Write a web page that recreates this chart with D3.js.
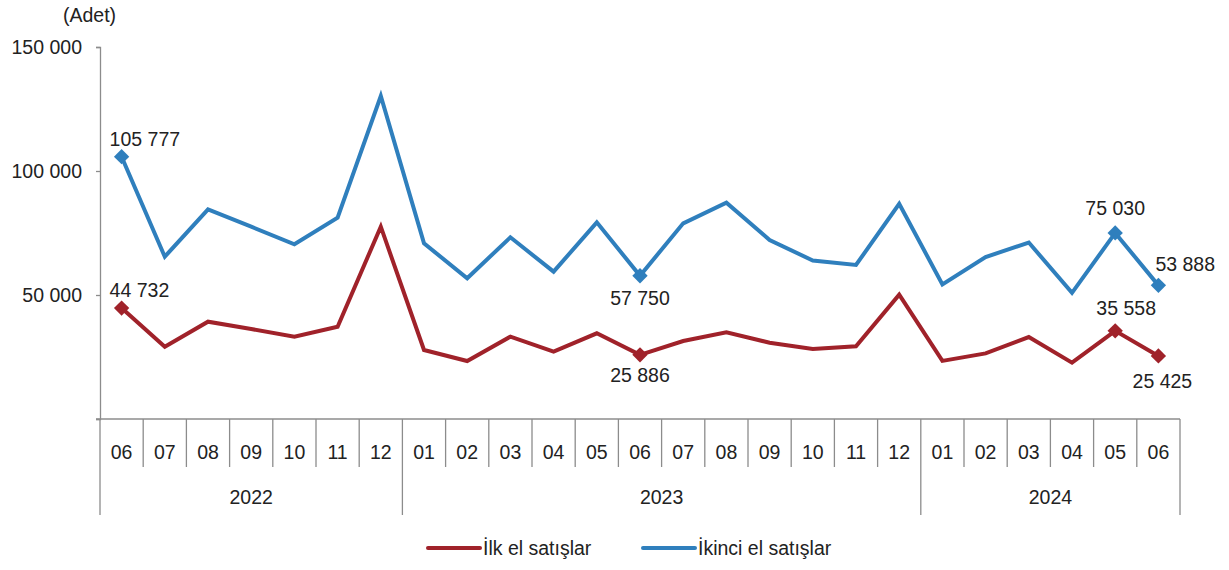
<!DOCTYPE html>
<html><head><meta charset="utf-8">
<script src="https://cdn.jsdelivr.net/npm/d3@7"></script>
<style>body{margin:0;background:#fff}svg{display:block}text{font-family:"Liberation Sans",Arial,sans-serif;fill:#222}</style>
</head><body><svg id="c" width="1229" height="570"></svg>
<script>
const months = ["06","07","08","09","10","11","12","01","02","03","04","05","06","07","08","09","10","11","12","01","02","03","04","05","06"];
const years = [{label:"2022",start:0,end:7},{label:"2023",start:7,end:19},{label:"2024",start:19,end:25}];
const ilkEl = [44732,29150,39230,36290,33190,37220,77540,27820,23390,33190,27150,34560,25886,31450,34960,30780,28230,29310,50160,23430,26450,33060,22740,35558,25425];
const ikinciEl = [105777,65440,84550,77540,70440,81170,130240,70840,56730,73270,59400,79300,57750,78900,87220,72180,63900,62100,86800,54270,65300,71170,50850,75030,53888];
const yTicks = [0,50000,100000,150000];
const seriesNames = ["İlk el satışlar","İkinci el satışlar"];
const colors = ["#A0222A","#2F7FBD"];
// labelled points: [seriesIndex, pointIndex, dx, dy(center offset), anchor]
const labelled = [[1,0,-12,-18,"start"],[0,0,-12,-18,"start"],[1,12,0,22,"middle"],[0,12,0,20,"middle"],[1,23,0,-25,"middle"],[1,24,-3,-21,"start"],[0,23,11,-23,"middle"],[0,24,4,25,"middle"]];

const loc = d3.formatLocale({thousands:" ",grouping:[3],decimal:",",currency:["",""]});
const fmt = loc.format(",");
const svg = d3.select("#c");
const FS = 19.5;
const x = d3.scaleBand().domain(d3.range(months.length)).range([100,1180]).padding(0);
const y = d3.scaleLinear().domain([0,150000]).range([419,47]);
const axisColor = "#8c8c8c";

// y axis
const ya = svg.append("g").attr("transform","translate(100,0)")
  .call(d3.axisLeft(y).tickValues(yTicks).tickSize(4).tickPadding(14).tickFormat(d=>d===0?"":fmt(d)));
ya.select(".domain").attr("stroke",axisColor).attr("stroke-width",1.3);
ya.selectAll(".tick line").attr("stroke",axisColor).attr("stroke-width",1.3);
ya.selectAll(".tick text").style("font-size",FS+"px").attr("fill","#222").style("font-family",'"Liberation Sans",Arial,sans-serif');
svg.append("text").attr("x",63).attr("y",22).style("font-size",FS+"px").text("(Adet)");

// x axis
const g = svg.append("g");
g.append("line").attr("x1",96).attr("x2",1180).attr("y1",419).attr("y2",419).attr("stroke",axisColor).attr("stroke-width",1.3);
const bounds = d3.range(months.length+1);
const yearBounds = new Set(years.flatMap(d=>[d.start,d.end]));
g.selectAll("line.sep").data(bounds).join("line")
  .attr("x1",i=>i<months.length?x(i):x.range()[1]).attr("x2",i=>i<months.length?x(i):x.range()[1])
  .attr("y1",419).attr("y2",i=>yearBounds.has(i)?515:467)
  .attr("stroke",axisColor).attr("stroke-width",1.3);
g.selectAll("text.m").data(months).join("text")
  .attr("x",(d,i)=>x(i)+x.bandwidth()/2).attr("y",459).attr("text-anchor","middle").style("font-size",FS+"px").text(d=>d);
g.selectAll("text.yr").data(years).join("text")
  .attr("x",d=>(x(d.start)+(d.end<months.length?x(d.end):x.range()[1]))/2).attr("y",504).attr("text-anchor","middle").style("font-size",FS+"px").text(d=>d.label);

// lines
const data = [ilkEl, ikinciEl];
const line = d3.line().x((d,i)=>x(i)+x.bandwidth()/2).y(d=>y(d));
data.forEach((s,k)=>{
  svg.append("path").datum(s).attr("d",line).attr("fill","none").attr("stroke",colors[k]).attr("stroke-width",4).attr("stroke-linejoin","miter");
});
// markers + labels
const sym = d3.symbol().type(d3.symbolDiamond2).size(150);
labelled.forEach(([k,i,dx,dy,anchor])=>{
  const cx = x(i)+x.bandwidth()/2, cy = y(data[k][i]);
  svg.append("path").attr("d",sym).attr("transform",`translate(${cx},${cy})`).attr("fill",colors[k]);
  svg.append("text").attr("x",cx+dx).attr("y",cy+dy+7).attr("text-anchor",anchor).style("font-size",FS+"px").text(fmt(data[k][i]));
});

// legend
const leg = [{x1:428,x2:480,tx:483},{x1:643,x2:695,tx:698}];
leg.forEach((l,k)=>{
  svg.append("line").attr("x1",l.x1).attr("x2",l.x2).attr("y1",548).attr("y2",548).attr("stroke",colors[k]).attr("stroke-width",4).attr("stroke-linecap","round");
  svg.append("text").attr("x",l.tx).attr("y",555).style("font-size",FS+"px").text(seriesNames[k]);
});
</script></body></html>
